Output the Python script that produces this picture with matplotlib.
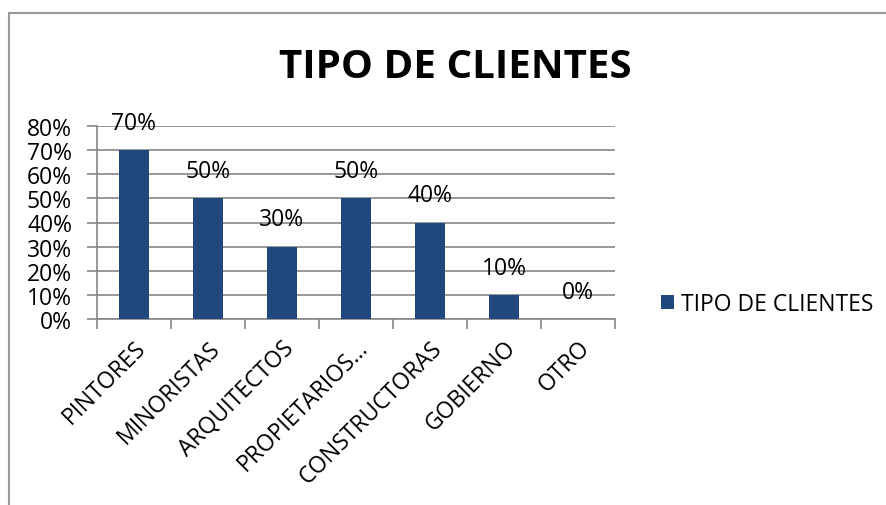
import matplotlib
matplotlib.use("Agg")
import matplotlib.pyplot as plt
from matplotlib.lines import Line2D
import numpy as np

categories = ["PINTORES", "MINORISTAS", "ARQUITECTOS", "PROPIETARIOS...",
              "CONSTRUCTORAS", "GOBIERNO", "OTRO"]
values = [70, 50, 30, 50, 40, 10, 0]
series_name = "TIPO DE CLIENTES"
title = "TIPO DE CLIENTES"
yticks = [0, 10, 20, 30, 40, 50, 60, 70, 80]

FONT = ["Open Sans", "DejaVu Sans"]
plt.rcParams['font.family'] = FONT

W, H = 886, 506
fig = plt.figure(figsize=(W / 100, H / 100), dpi=100)
bar_color = "#21487D"
grid_color = "#868686"
FS = 16.5

# outer border (top and left visible)
fig.add_artist(Line2D([9 / W, 1.0], [1 - 14 / H, 1 - 14 / H], color="#9a9a9a", lw=1.5,
                      transform=fig.transFigure))
fig.add_artist(Line2D([9 / W, 9 / W], [0, 1 - 14 / H], color="#9a9a9a", lw=1.5,
                      transform=fig.transFigure))

ax = fig.add_axes([97 / W, 1 - 320 / H, (615 - 97) / W, (320 - 127) / H])
x = np.arange(len(categories))
ax.bar(x, values, width=0.4, color=bar_color, zorder=3, label=series_name)
ax.set_xlim(-0.5, len(categories) - 0.5)
ax.set_ylim(0, 80)
ax.set_yticks(yticks)
ax.set_yticklabels([f"{v}%" for v in yticks], fontsize=FS)
ax.yaxis.grid(True, color=grid_color, lw=1.2, zorder=0)
ax.tick_params(axis='y', length=7, color=grid_color, width=1.2, pad=11)
ax.set_xticks(x)
ax.set_xticklabels(categories, rotation=45, ha='right', rotation_mode='anchor', fontsize=FS)
ax.tick_params(axis='x', which='major', length=0, pad=12)
ax.set_xticks(np.arange(-0.5, len(categories)), minor=True)
ax.tick_params(axis='x', which='minor', length=7, color=grid_color, width=1.2)
for s in ["top", "right"]:
    ax.spines[s].set_visible(False)
for s in ["left", "bottom"]:
    ax.spines[s].set_color(grid_color)
    ax.spines[s].set_linewidth(1.2)

for xi, v in zip(x, values):
    ax.annotate(f"{v}%", (xi, v), xytext=(0, 11), textcoords="offset points",
                ha='center', va='bottom', fontsize=FS)

fig.text(455 / W, 1 - 67 / H, title, ha='center', va='center', fontsize=29, fontweight='bold')

ax.legend(loc='center left', bbox_to_anchor=(640 / W, 1 - 305 / H), bbox_transform=fig.transFigure,
          frameon=False, fontsize=FS, handlelength=0.6, handleheight=0.6, handletextpad=0.3)

fig.savefig("out.png", dpi=100)
